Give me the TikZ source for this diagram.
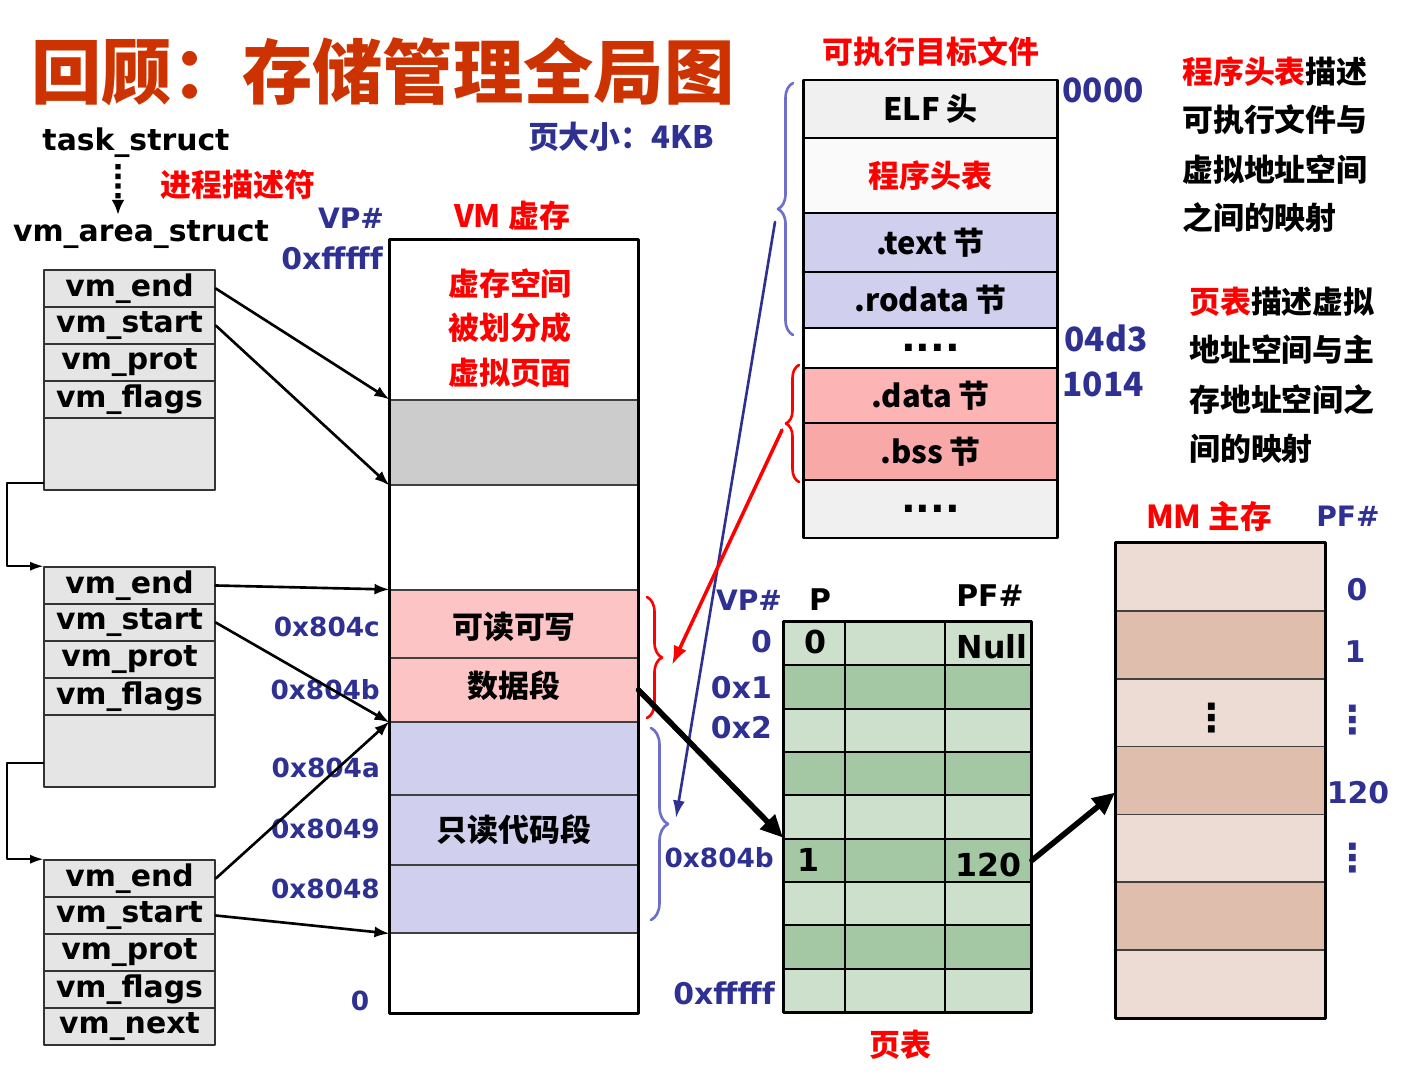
\documentclass[tikz,border=0pt]{standalone}
\usepackage{fontspec}
\setmainfont{DejaVu Sans}
\newfontfamily\cjk{Noto Sans CJK SC}
\usetikzlibrary{arrows.meta,decorations.pathreplacing}
\definecolor{ttlred}{RGB}{204,51,0}
\definecolor{lblue}{RGB}{46,49,146}
\definecolor{brblue}{RGB}{110,110,205}
\definecolor{rwpink}{RGB}{252,196,196}
\definecolor{ropurple}{RGB}{208,208,238}
\definecolor{dpink}{RGB}{252,180,180}
\definecolor{bpink}{RGB}{249,168,168}
\definecolor{fgray}{RGB}{240,240,240}
\definecolor{ptlight}{RGB}{204,224,204}
\definecolor{ptdark}{RGB}{163,200,163}
\definecolor{mmlight}{RGB}{237,220,211}
\definecolor{mmdark}{RGB}{223,190,174}
\newcommand{\secdots}{{\normalfont\bfseries\fontsize{22}{22}\selectfont....}}
\tikzset{
  lat/.style={font=\bfseries\fontsize{17}{17}\selectfont},
  latsm/.style={font=\bfseries\fontsize{15}{15}\selectfont,text=lblue},
  han/.style={font=\cjk\bfseries\fontsize{17.6}{17.6}\selectfont},
  vdots/.style={font=\bfseries\fontsize{22}{22}\selectfont},
  vmrow/.style={draw=black!80,fill=black!10,line width=0.9pt,minimum width=3.42cm,
                minimum height=0.74cm,inner sep=0pt,lat},
  vmseg/.style={draw=black!75,line width=0.6pt,minimum width=4.96cm,inner sep=0pt},
  filesec/.style={draw,line width=1.7pt,minimum width=5.1cm,inner sep=0pt,han},
  ptcell/.style={draw,line width=1.1pt,minimum height=0.8667cm,inner sep=0pt},
  mmrow/.style={draw=black!75,line width=1pt,minimum width=4.18cm,minimum height=1.357cm,inner sep=0pt},
  arr/.style={-{Latex[length=3mm,width=2.2mm]},line width=1.5pt},
  bigarr/.style={-{Triangle[length=4.5mm,width=4mm]},line width=3.2pt},
  brc/.style={decorate,decoration={brace,amplitude=0.3cm},line width=1.5pt},
  every picture/.style={line cap=round,line join=round}}
\begin{document}
\begin{tikzpicture}[x=0.02cm,y=-0.02cm]
  \useasboundingbox[fill=white] (0,0) rectangle (1427,1078);
  \node[font=\cjk\bfseries\fontsize{40}{40}\selectfont,text=ttlred] (title) at (383,72){回顾：存储管理全局图};
  \node[lat] (task) at (136,143){task\_struct};
  \node[lat] (area) at (141,235){vm\_area\_struct};
  \node[han,text=red] (desc) at (238,185){进程描述符};
  \draw[line width=3pt,line cap=butt,dash pattern=on 3pt off 2.5pt,-{Latex[length=3mm,width=2.6mm]}]
    ([xshift=-0.36cm]task.south) -- ([xshift=-0.46cm]area.north);
  \node[han,text=lblue] (psize) at (621,137){页大小：4KB};
  % VM
  \node[lat,text=lblue,font=\bfseries\fontsize{16}{16}\selectfont] (vpa) at (351,218){VP\#};
  \node[han,text=red] (vmt) at (512,216){VM 虚存};
  \node[lat,text=lblue,anchor=east] (vtop) at (389,258){0xfffff};
  \foreach \n/\ta/\tb/\c in {vmf1/240/400/white,vmgray/400/485/black!20,vmf2/485/590/white,
      vmrw1/590/658/rwpink,vmrw2/658/722/rwpink,vmro1/722/795/ropurple,vmro2/795/865/ropurple,
      vmro3/865/933/ropurple,vmf3/933/1013/white}
    \node[vmseg,fill=\c,minimum height={(\tb-\ta)*0.02cm}] (\n) at (514,{(\ta+\tb)/2}){};
  \draw[line width=1.6pt] (vmf1.north west) rectangle (vmf3.south east);
  \node[han,text=red,align=center,font=\cjk\bfseries\fontsize{17.6}{25.5}\selectfont] (vmtxt) at (510,328)
    {虚存空间\\被划分成\\虚拟页面};
  \node[han] (rwt) at (514,627){可读可写};
  \node[han] (dst) at (514,686){数据段};
  \node[han] (rot) at (514,830){只读代码段};
  \foreach \t/\yy in {0x804c/627,0x804b/690,0x804a/768,0x8049/829,0x8048/889}
    \node[latsm,anchor=east] (l\t) at (386,\yy){\t};
  \node[latsm] (lzero) at (360,1001){0};
  % vm_area_struct
  \foreach \k/\top in {1/270,2/567,3/860}
    \foreach \f [count=\i from 0] in {end,start,prot,flags}
      \node[vmrow] (a\k\f) at (129.5,{\top+18.5+37*\i}){vm\_\f};
  \node[vmrow,minimum height=1.44cm] (a1x) at (129.5,454){};
  \node[vmrow,minimum height=1.44cm] (a2x) at (129.5,751){};
  \node[vmrow] (a3next) at (129.5,1026.5){vm\_next};
  \draw[-{Latex[length=2.6mm,width=1.8mm]},line width=0.9pt] ([yshift=0.16cm]a1x.south west) -- ++(-36,0) |- (a2end.north west);
  \draw[-{Latex[length=2.6mm,width=1.8mm]},line width=0.9pt] ([yshift=0.5cm]a2x.south west) -- ++(-36,0) |- (a3end.north west);
  \draw[arr] (a1end.east) -- (vmgray.north west);
  \draw[arr] (a1start.east) -- (vmgray.south west);
  \draw[arr] (a2end.east) -- (vmrw1.north west);
  \draw[arr] (a2start.east) -- (vmrw2.south west);
  \draw[arr] (a3end.east) -- (vmro1.north west);
  \draw[arr] (a3start.east) -- (vmro3.south west);
  % ELF file
  \node[han,text=red] (ftitle) at (931,52){可执行目标文件};
  \foreach \n/\ta/\tb/\c/\s in {felf/80/138/fgray/{ELF 头},fph/138/213/black!2/{\textcolor{red}{程序头表}},
      ftext/213/272/ropurple/{.text 节},frod/272/328/ropurple/{.rodata 节},fdot1/328/368/white/{\secdots},
      fdata/368/423/dpink/{.data 节},fbss/423/480/bpink/{.bss 节},fdot2/480/538/fgray/{\secdots}}
    \node[filesec,fill=\c,minimum height={(\tb-\ta)*0.02cm}] (\n) at (930.5,{(\ta+\tb)/2}){\s};
  \node[han,text=lblue,font=\cjk\bfseries\fontsize{19}{19}\selectfont] (o1) at (1103,90){0000};
  \node[han,text=lblue,font=\cjk\bfseries\fontsize{19}{19}\selectfont] (o2) at (1106,338){04d3};
  \node[han,text=lblue,font=\cjk\bfseries\fontsize{19}{19}\selectfont] (o3) at (1103,384){1014};
  \draw[brc,brblue] (793,335) -- (793,83);
  \draw[brc,red,decoration={amplitude=0.26cm}] (799,482) -- (799,365);
  \draw[brc,red,decoration={amplitude=0.3cm}] (647,597) -- (647,718);
  \draw[brc,brblue,decoration={amplitude=0.34cm}] (651,728) -- (651,920);
  \coordinate (fbtip) at (775,222);
  \coordinate (vbtip) at (676,818);
  \coordinate (frtip) at (782,430);
  \coordinate (vrtip) at (672,665);
  \draw[-{Latex[length=3.5mm,width=2.4mm]},line width=1.5pt,lblue] (fbtip) -- (vbtip);
  \draw[-{Latex[length=3.8mm,width=2.8mm]},line width=2pt,red] (frtip) -- (vrtip);
  % page table
  \foreach \i in {0,...,8}{
    \ifodd\i \def\pc{ptdark}\else\def\pc{ptlight}\fi
    \node[ptcell,fill=\pc,minimum width=1.22cm] (pp\i) at (814.5,{643.67+43.33*\i}){};
    \node[ptcell,fill=\pc,minimum width=2cm] (pv\i) at (895,{643.67+43.33*\i}){};
    \node[ptcell,fill=\pc,minimum width=1.72cm] (pf\i) at (988,{643.67+43.33*\i}){};
  }
  \draw[line width=1.7pt] (pp0.north west) rectangle (pf8.south east);
  \node[lat,text=lblue,font=\bfseries\fontsize{16}{16}\selectfont] (vpb) at (749,600){VP\#};
  \node[lat] (phd) at (820,600){P};
  \node[lat] (pfhd) at (990,596){PF\#};
  \node[lat,font=\bfseries\fontsize{18}{18}\selectfont] (cp0) at (815,642){0};
  \node[lat,font=\bfseries\fontsize{18}{18}\selectfont] (cnull) at (992,647){Null};
  \node[lat,font=\bfseries\fontsize{18}{18}\selectfont] (cp5) at (808,860){1};
  \node[lat,font=\bfseries\fontsize{18}{18}\selectfont] (cf5) at (988,865){120};
  \node[lat,text=lblue,anchor=east] (r0) at (778,642){0};
  \node[lat,text=lblue,anchor=east] (r1) at (778,688){0x1};
  \node[lat,text=lblue,anchor=east] (r2) at (778,728){0x2};
  \node[latsm,anchor=east] (r5) at (780,858){0x804b};
  \node[lat,text=lblue,anchor=east] (r8) at (781,993){0xfffff};
  \node[han,text=red] (pttl) at (900,1045){页表};
  % main memory
  \foreach \i in {0,...,6}{
    \ifodd\i \def\pc{mmdark}\else\def\pc{mmlight}\fi
    \node[mmrow,fill=\pc] (mm\i) at (1220.5,{576.93+67.86*\i}){};
  }
  \draw[line width=1.7pt] (mm0.north west) rectangle (mm6.south east);
  \node[vdots] (mmdots) at (1212,718){⋮};
  \node[han,text=red,font=\cjk\bfseries\fontsize{18}{18}\selectfont] (mmt) at (1209,516){MM 主存};
  \node[lat,text=lblue,font=\bfseries\fontsize{16}{16}\selectfont] (pfc) at (1348,516){PF\#};
  \node[lat,text=lblue] (m0) at (1357,590){0};
  \node[lat,text=lblue] (m1) at (1355,652){1};
  \node[vdots,text=lblue] (m2) at (1353,720){⋮};
  \node[lat,text=lblue] (m3) at (1358,793){120};
  \node[vdots,text=lblue] (m4) at (1353,858){⋮};
  \draw[bigarr] (vmrw2.east) -- (pp5.north west);
  \draw[bigarr] (pf5.east) -- ([yshift=-0.24cm]mm3.west);
  % notes
  \node[han,anchor=west] (d1) at (1176,72){\textcolor{red}{程序头表}描述};
  \node[han,anchor=west] (d2) at (1176,120){可执行文件与};
  \node[han,anchor=west] (d3) at (1176,170){虚拟地址空间};
  \node[han,anchor=west] (d4) at (1176,218){之间的映射};
  \node[han,anchor=west] (e1) at (1183,302){\textcolor{red}{页表}描述虚拟};
  \node[han,anchor=west] (e2) at (1183,350){地址空间与主};
  \node[han,anchor=west] (e3) at (1183,400){存地址空间之};
  \node[han,anchor=west] (e4) at (1183,449){间的映射};
\end{tikzpicture}
\end{document}
